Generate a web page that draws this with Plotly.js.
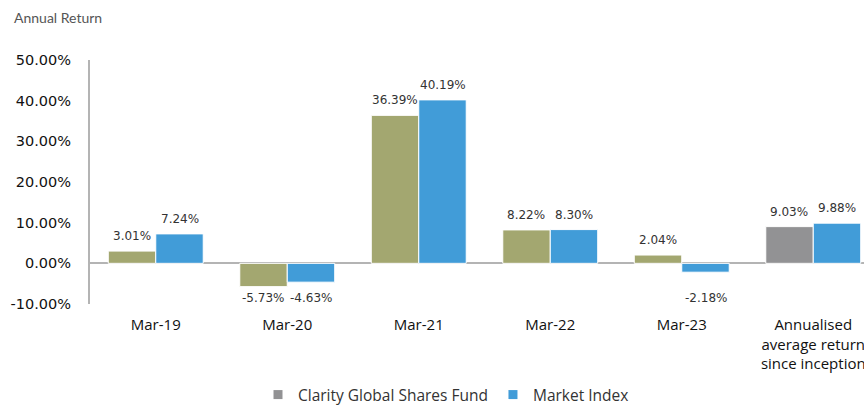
<!DOCTYPE html>
<html>
<head>
<meta charset="utf-8">
<script src="https://cdn.plot.ly/plotly-3.0.1.min.js"></script>
<style>
html, body { margin:0; padding:0; overflow:hidden; background:#fff; width:864px; height:405px; }
#chart { width:900px; height:405px; }
</style>
</head>
<body>
<div id="chart"></div>
<script>
var categories = ["Mar-19", "Mar-20", "Mar-21", "Mar-22", "Mar-23", "Annualised<br>average return<br>since inception"];
var fundValues = [3.01, -5.73, 36.39, 8.22, 2.04, 9.03];
var indexValues = [7.24, -4.63, 40.19, 8.30, -2.18, 9.88];
var fundName = "Clarity Global Shares Fund";
var indexName = "Market Index";
var tickValues = [-10, 0, 10, 20, 30, 40, 50];

var olive = "#a3a770";
var grey = "#929294";
var blue = "#419cd8";

var fundColors = categories.map(function (c, i) { return i === categories.length - 1 ? grey : olive; });

var traces = [
  {
    type: "bar", x: categories, y: fundValues, name: fundName, showlegend: false,
    marker: { color: fundColors, line: { color: "#ffffff", width: 1 } },
    hoverinfo: "skip"
  },
  {
    type: "bar", x: categories, y: indexValues, name: indexName, showlegend: false,
    marker: { color: blue, line: { color: "#ffffff", width: 1 } },
    hoverinfo: "skip"
  },
  {
    type: "scatter", mode: "markers", x: [null], y: [null], name: fundName,
    marker: { symbol: "square", color: grey, size: 9 }
  },
  {
    type: "scatter", mode: "markers", x: [null], y: [null], name: indexName,
    marker: { symbol: "square", color: blue, size: 9 }
  }
];

var annotations = [];
function addLabels(values, offsetIdx) {
  values.forEach(function (v, i) {
    var neg = v < 0;
    annotations.push({
      xref: "x", yref: "y",
      x: i, xshift: offsetIdx * 24,
      y: neg ? Math.min(v, -8.6) : v,
      yanchor: neg ? "middle" : "bottom",
      yshift: neg ? 0 : 6,
      text: v.toFixed(2) + "%",
      showarrow: false,
      font: { family: "DejaVu Sans, Verdana, sans-serif", size: 12, color: "#333333" }
    });
  });
}
addLabels(fundValues, -1);
addLabels(indexValues, 1);

annotations.push({
  xref: "paper", yref: "paper", x: (12 - 90) / 789, y: (304 - 18) / 244,
  xanchor: "left", yanchor: "middle",
  text: "Annual Return", showarrow: false,
  font: { family: "Lato, DejaVu Sans, sans-serif", size: 14, color: "#555555" }
});

var layout = {
  width: 900, height: 405,
  margin: { l: 90, r: 21, t: 60, b: 101 },
  paper_bgcolor: "#ffffff", plot_bgcolor: "#ffffff",
  barmode: "group", bargap: 0.278, bargroupgap: 0,
  showlegend: true,
  legend: {
    orientation: "h", xref: "container", yref: "container",
    x: 446/900, xanchor: "center", y: 10/405, yanchor: "middle",
    font: { family: "Open Sans, sans-serif", size: 15.5, color: "#333333" },
    itemwidth: 30, tracegroupgap: 0
  },
  xaxis: {
    type: "category", showline: false, showgrid: false, zeroline: false, ticks: "",
    ticklabelstandoff: 10,
    tickfont: { family: "Open Sans, sans-serif", size: 15, color: "#111111" },
    fixedrange: true
  },
  yaxis: {
    range: [-10, 50], tickvals: tickValues,
    ticktext: tickValues.map(function (t) { return t.toFixed(2) + "%"; }),
    showgrid: false, zeroline: true, zerolinecolor: "#b4b4b4", zerolinewidth: 2,
    showline: true, linecolor: "#b4b4b4", linewidth: 2, ticks: "",
    ticklabelstandoff: 14,
    tickfont: { family: "DejaVu Sans, Verdana, sans-serif", size: 14.5, color: "#111111" },
    fixedrange: true
  },
  annotations: annotations
};

Plotly.newPlot("chart", traces, layout, { staticPlot: true, displayModeBar: false });
</script>
</body>
</html>
